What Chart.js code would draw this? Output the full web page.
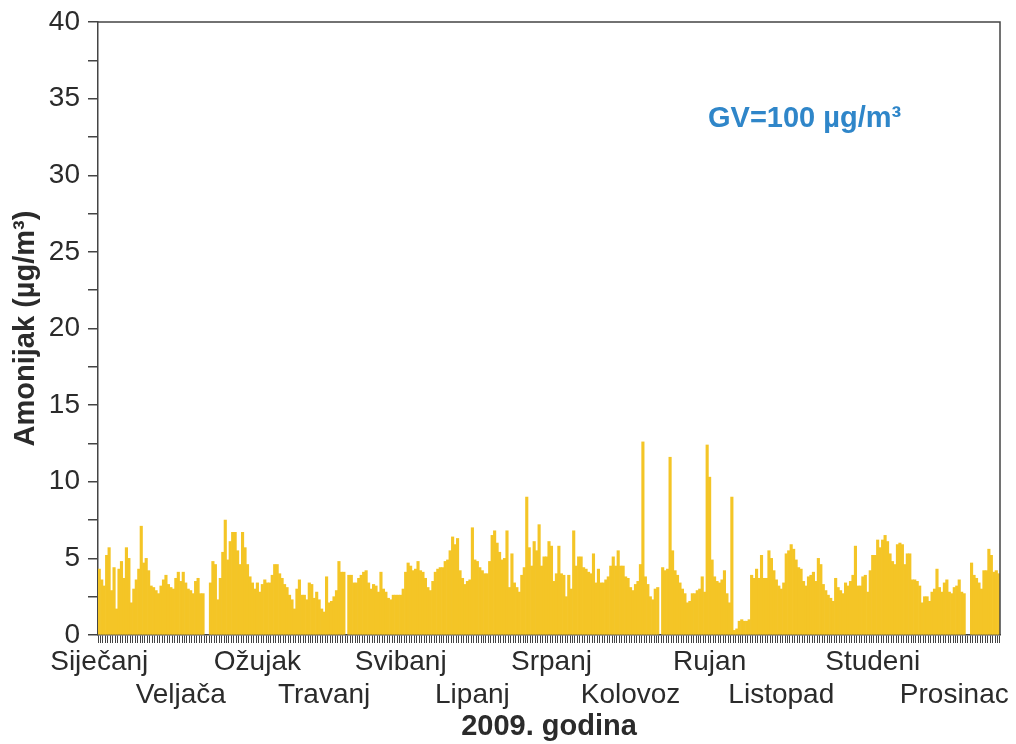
<!DOCTYPE html>
<html>
<head>
<meta charset="utf-8">
<title>Amonijak 2009</title>
<script src="https://cdn.jsdelivr.net/npm/chart.js@4.4.1/dist/chart.umd.min.js"></script>
<style>
  body { margin: 0; background: #fff; }
</style>
</head>
<body>
<canvas id="amonijak" width="1016" height="744"></canvas>
<script>
// daily values, µg/m3 (null = no measurement)
const jan = [4.3,3.6,3.2,5.2,5.7,2.9,4.4,1.7,4.3,4.8,3.7,5.7,5.0,2.1,3.0,3.6,4.3,7.1,4.7,5.0,4.2,3.2,3.1,2.9,2.7,3.2,3.6,3.9,3.3,3.1,3.0]
const feb = [3.7,4.1,3.5,4.1,3.4,3.0,2.9,2.7,3.5,3.7,2.7,2.7,null,null,3.4,4.8,4.6,2.3,3.7,5.4,7.5,4.9,6.1,6.7,6.7,5.5,4.6,6.7]
const mar = [5.7,4.6,3.8,3.4,3.0,3.4,2.8,3.3,3.6,3.4,3.4,3.9,4.6,4.6,4.0,3.7,3.3,3.1,2.6,2.3,1.7,3.0,3.6,2.6,2.6,2.3,3.4,3.3,2.4,2.8,2.3]
const apr = [1.7,1.5,3.8,2.1,2.2,2.5,2.9,4.8,4.1,4.1,null,3.9,3.9,3.4,3.4,3.7,3.9,4.1,4.2,3.4,3.0,3.3,3.2,2.8,4.1,3.0,2.8,2.4,2.3,2.6]
const may = [2.6,2.6,2.6,3.0,4.1,4.7,4.5,4.2,4.3,4.8,4.2,4.1,3.7,3.1,2.9,3.5,4.1,4.3,4.4,4.4,4.8,4.9,5.5,6.4,5.9,6.3,4.2,3.7,3.3,3.5,3.6]
const jun = [7.0,4.9,4.8,4.4,4.2,4.0,4.0,4.8,6.5,6.8,6.0,5.4,4.9,5.0,6.8,3.1,5.3,3.4,3.1,2.8,3.9,4.4,9.0,5.7,4.5,6.1,5.5,7.2,4.5,5.1]
const jul = [5.1,6.1,5.8,3.5,4.0,5.8,4.0,3.9,2.5,3.9,3.0,6.8,4.5,5.1,5.1,4.4,4.3,4.1,4.0,5.3,3.4,4.3,3.4,3.4,3.6,3.8,4.5,5.1,4.5,5.5,4.5]
const aug = [4.5,3.8,3.7,3.1,2.9,3.3,3.5,4.6,12.6,3.8,3.3,2.5,2.3,3.0,3.1,null,4.4,4.2,4.3,11.6,5.5,4.2,3.9,3.4,3.0,2.7,2.1,2.2,2.7,2.7,2.9]
const sep = [3.0,3.8,2.8,12.4,10.3,4.9,3.8,3.5,3.4,3.6,4.2,2.7,2.1,9.0,0.3,0.4,0.9,1.0,0.9,0.9,1.0,3.9,3.7,4.3,3.7,5.2,3.7,3.7,5.5,5.0]
const oct = [4.2,3.6,3.2,3.0,3.4,5.3,5.5,5.9,5.6,4.9,4.4,4.3,3.5,3.2,3.8,3.9,4.1,3.5,5.0,4.6,3.3,2.9,2.6,2.4,2.2,3.7,3.1,2.9,2.7,3.4,3.2]
const nov = [3.5,3.9,5.8,3.2,3.2,3.8,3.9,2.8,4.2,5.2,5.2,6.2,5.7,6.2,6.5,6.1,5.3,4.8,4.6,5.9,6.0,5.9,4.6,5.3,5.3,3.6,3.6,3.5,3.2,2.1]
const dec = [2.5,2.5,2.2,2.8,3.0,4.3,3.1,2.8,3.4,3.6,2.8,2.7,3.1,3.2,3.6,2.8,2.7,null,null,4.7,3.9,3.7,3.4,3.0,4.2,4.2,5.6,5.2,4.1,4.2,4.0]

const monthNames = ['Siječanj','Veljača','Ožujak','Travanj','Svibanj','Lipanj','Srpanj','Kolovoz','Rujan','Listopad','Studeni','Prosinac']
// day of the year under which each month name is printed
const labelDays = [0, 33, 64, 91, 122, 151, 183, 215, 247, 276, 313, 346]
const yTicks = [0, 5, 10, 15, 20, 25, 30, 35, 40]
const limitText = 'GV=100 µg/m³'

const months = [jan, feb, mar, apr, may, jun, jul, aug, sep, oct, nov, dec]
const values = months.flat()

const days = []
months.forEach((m, mi) => {
  m.forEach((v, d) => days.push((mi + 1) + '/' + (d + 1)))
})

const fontFamily = "'Liberation Sans', Arial, sans-serif"
const axisColor = '#444'
const textColor = '#2b2b2b'

const frame = {
  id: 'frame',
  afterDraw(chart) {
    const { ctx, chartArea: a } = chart
    ctx.save()
    ctx.strokeStyle = axisColor
    ctx.lineWidth = 1.5
    ctx.beginPath()
    ctx.moveTo(a.left, a.top)
    ctx.lineTo(a.right, a.top)
    ctx.lineTo(a.right, a.bottom)
    ctx.stroke()
    ctx.font = 'bold 29px ' + fontFamily
    ctx.fillStyle = '#2f86c9'
    ctx.textBaseline = 'alphabetic'
    ctx.fillText(limitText, 708, 127)
    ctx.restore()
  }
}

new Chart(document.getElementById('amonijak'), {
  type: 'bar',
  data: {
    labels: days,
    datasets: [{
      data: values,
      backgroundColor: '#f4c526',
      borderWidth: 0,
      barPercentage: 1,
      categoryPercentage: 1
    }]
  },
  options: {
    responsive: false,
    animation: false,
    devicePixelRatio: 1,
    layout: { padding: { top: 20, right: 16, left: 0, bottom: 0 } },
    plugins: { legend: { display: false }, tooltip: { enabled: false } },
    scales: {
      x: {
        afterFit: s => { s.height = 109 },
        grid: { drawOnChartArea: false, tickLength: 8, color: axisColor, lineWidth: 1 },
        border: { color: axisColor, width: 1.5 },
        ticks: {
          autoSkip: false,
          maxRotation: 0,
          minRotation: 0,
          padding: 3,
          color: textColor,
          font: { family: fontFamily, size: 28, lineHeight: 1.18 },
          callback: (v, i) => {
            const m = labelDays.indexOf(i)
            if (m < 0) return ''
            return m % 2 === 0 ? monthNames[m] : ['', monthNames[m]]
          }
        },
        title: {
          display: true,
          text: '2009. godina',
          color: textColor,
          font: { family: fontFamily, size: 29, weight: 'bold' },
          padding: { top: 0, bottom: 0 }
        }
      },
      y: {
        min: 0,
        max: 40,
        afterFit: s => { s.width = 98 },
        grid: { drawOnChartArea: false, tickLength: 10, color: axisColor, lineWidth: 1.5 },
        border: { color: axisColor, width: 1.5 },
        ticks: {
          stepSize: 2.5,
          padding: 8,
          color: textColor,
          font: { family: fontFamily, size: 28, lineHeight: 1 },
          callback: v => yTicks.includes(v) ? v : ''
        },
        title: {
          display: true,
          text: 'Amonijak (µg/m³)',
          color: textColor,
          font: { family: fontFamily, size: 29, weight: 'bold' },
          padding: { top: 9, bottom: 0 }
        }
      }
    }
  },
  plugins: [frame]
})
</script>
</body>
</html>
